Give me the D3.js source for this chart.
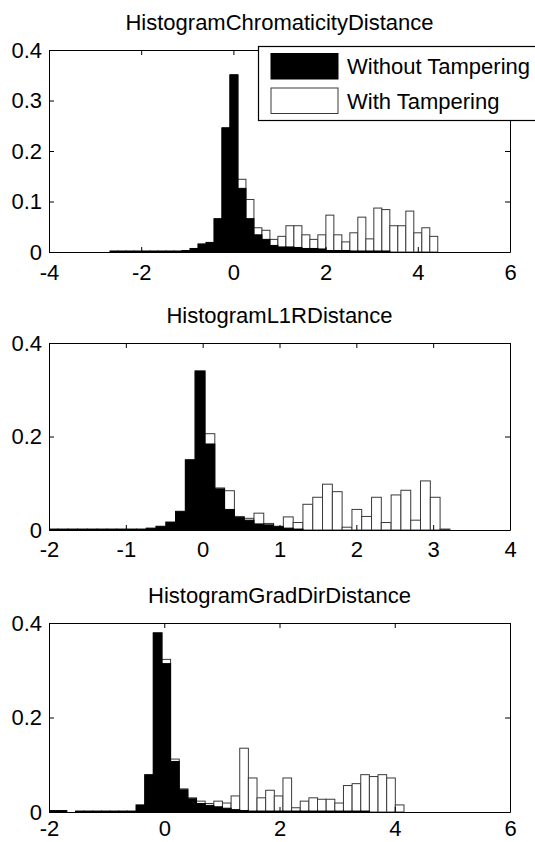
<!DOCTYPE html>
<html>
<head>
<meta charset="utf-8">
<script src="https://d3js.org/d3.v7.min.js"></script>
<style>
  body { margin: 0; background: #fff; }
  svg text { font-family: "Liberation Sans", Arial, sans-serif; fill: #000; }
</style>
</head>
<body>
<div id="container"></div>
<script>
//Bin edges (42 edges -> 41 bins) and bar heights
var chromaEdges = [-2.676, -2.503, -2.329, -2.156, -1.982, -1.809, -1.636, -1.462, -1.289, -1.115,
  -0.942, -0.769, -0.595, -0.422, -0.248, -0.075, 0.098, 0.272, 0.445, 0.619,
  0.792, 0.965, 1.139, 1.312, 1.486, 1.659, 1.832, 2.006, 2.179, 2.353,
  2.526, 2.699, 2.873, 3.046, 3.220, 3.393, 3.566, 3.740, 3.913, 4.087,
  4.260, 4.433];
var chromaWithout = [0.002, 0.002, 0.002, 0.002, 0.002, 0.002, 0.002, 0.002, 0.002, 0.003,
  0.007, 0.016, 0.019, 0.066, 0.246, 0.351, 0.126, 0.066, 0.034, 0.025,
  0.013, 0.010, 0.010, 0.009, 0.007, 0.007, 0.006, 0.003, 0.003, 0.003,
  0.002, 0.002, 0.002, 0.002, 0.002, 0, 0, 0, 0, 0,
  0];
var chromaWith = [0, 0, 0, 0, 0, 0, 0, 0, 0, 0,
  0, 0, 0, 0, 0.245, 0.35, 0.144, 0.104, 0.048, 0.043,
  0.025, 0.031, 0.052, 0.052, 0.034, 0.025, 0.034, 0.073, 0.034, 0.020,
  0.038, 0.069, 0.026, 0.087, 0.084, 0.052, 0.052, 0.081, 0.038, 0.048,
  0.031];

var l1rEdges = [-2.010, -1.883, -1.755, -1.628, -1.500, -1.373, -1.245, -1.118, -0.990, -0.863,
  -0.735, -0.608, -0.480, -0.353, -0.225, -0.098, 0.030, 0.158, 0.285, 0.413,
  0.540, 0.668, 0.795, 0.923, 1.050, 1.178, 1.305, 1.433, 1.560, 1.688,
  1.815, 1.943, 2.070, 2.198, 2.325, 2.453, 2.580, 2.708, 2.835, 2.963,
  3.090, 3.218];
var l1rWithout = [0.002, 0.002, 0.002, 0.002, 0.002, 0.002, 0.002, 0.002, 0.002, 0.002,
  0.004, 0.008, 0.017, 0.040, 0.150, 0.340, 0.184, 0.088, 0.044, 0.027,
  0.021, 0.013, 0.011, 0.007, 0.004, 0.002, 0, 0, 0, 0,
  0, 0, 0, 0, 0, 0, 0, 0, 0, 0,
  0];
var l1rWith = [0, 0, 0, 0, 0, 0, 0, 0, 0, 0,
  0, 0, 0, 0, 0.150, 0.340, 0.206, 0.090, 0.084, 0.029,
  0.025, 0.036, 0.014, 0.008, 0.028, 0.016, 0.055, 0.070, 0.098, 0.082,
  0.006, 0.044, 0.029, 0.070, 0.016, 0.075, 0.085, 0.021, 0.105, 0.070,
  0.002];

var gradEdges = [-1.99, -1.84, -1.69, -1.54, -1.39, -1.24, -1.09, -0.94, -0.79, -0.64,
  -0.49, -0.34, -0.19, -0.04, 0.11, 0.26, 0.41, 0.56, 0.71, 0.86,
  1.01, 1.16, 1.31, 1.46, 1.61, 1.76, 1.91, 2.06, 2.21, 2.36,
  2.51, 2.66, 2.81, 2.96, 3.11, 3.26, 3.41, 3.56, 3.71, 3.86,
  4.01, 4.16];
var gradWithout = [0.003, 0.003, 0, 0.002, 0.002, 0.002, 0.002, 0.002, 0.002, 0.002,
  0.015, 0.079, 0.379, 0.314, 0.107, 0.047, 0.028, 0.018, 0.014, 0.011,
  0.008, 0.005, 0.003, 0.002, 0.002, 0.002, 0.002, 0.002, 0.002, 0.002,
  0.002, 0.002, 0.002, 0.002, 0.002, 0.002, 0.002, 0, 0, 0,
  0];
var gradWith = [0, 0, 0, 0, 0, 0, 0, 0, 0, 0,
  0, 0, 0.379, 0.323, 0.112, 0.049, 0.030, 0.023, 0.018, 0.023,
  0.019, 0.034, 0.135, 0.072, 0.030, 0.046, 0.034, 0.072, 0.009, 0.023,
  0.030, 0.027, 0.027, 0.019, 0.056, 0.060, 0.079, 0.075, 0.079, 0.072,
  0.015];

//Titles, tick values, legend labels
var titles = ["HistogramChromaticityDistance", "HistogramL1RDistance", "HistogramGradDirDistance"];
var xTicks1 = [-4, -2, 0, 2, 4, 6];
var xTicks2 = [-2, -1, 0, 1, 2, 3, 4];
var xTicks3 = [-2, 0, 2, 4, 6];
var yTicks1 = [0, 0.1, 0.2, 0.3, 0.4];
var yTicks23 = [0, 0.2, 0.4];
var legendLabels = ["Without Tampering", "With Tampering"];

var svgWidth = 535, svgHeight = 842;
var left = 49, right = 510;

var panels = [
  { title: titles[0], edges: chromaEdges, without: chromaWithout, withT: chromaWith,
    xTicks: xTicks1, yTicks: yTicks1, top: 50, bottom: 252, pad: 12 },
  { title: titles[1], edges: l1rEdges, without: l1rWithout, withT: l1rWith,
    xTicks: xTicks2, yTicks: yTicks23, top: 343, bottom: 530, pad: 11 },
  { title: titles[2], edges: gradEdges, without: gradWithout, withT: gradWith,
    xTicks: xTicks3, yTicks: yTicks23, top: 623, bottom: 812, pad: 8 }
];

var svg = d3.select("#container")
  .append("svg")
  .attr("width", svgWidth)
  .attr("height", svgHeight);

svg.append("rect")
  .attr("width", svgWidth)
  .attr("height", svgHeight)
  .attr("fill", "#fff");

panels.forEach(function (p, i) {
  drawPanel(p, i);
});

//plain hyphen minus like MATLAB, not the unicode minus d3.format gives
function tickText(d) {
  return String(d);
}

function drawPanel(p, i) {
  var x = d3.scaleLinear()
    .domain([p.xTicks[0], p.xTicks[p.xTicks.length - 1]])
    .range([left, right]);
  var y = d3.scaleLinear()
    .domain([0, 0.4])
    .range([p.bottom, p.top]);

  var g = svg.append("g");

  g.append("clipPath")
    .attr("id", "clip" + i)
    .append("rect")
    .attr("x", left)
    .attr("y", p.top)
    .attr("width", right - left)
    .attr("height", p.bottom - p.top);

  var bars = g.append("g").attr("clip-path", "url(#clip" + i + ")");

  //white (with tampering) first, black drawn over it
  drawBars(bars, p.edges, p.withT, x, y, "#fff", "#3a3a3a");
  drawBars(bars, p.edges, p.without, x, y, "#000", "#000");

  //axes, ticks point inward on all four sides
  g.append("g")
    .attr("transform", "translate(0," + p.bottom + ")")
    .call(d3.axisBottom(x).tickValues(p.xTicks).tickFormat(tickText)
      .tickSizeInner(-5).tickSizeOuter(0).tickPadding(p.pad))
    .call(styleAxis);
  g.append("g")
    .attr("transform", "translate(0," + p.top + ")")
    .call(d3.axisTop(x).tickValues(p.xTicks).tickFormat("")
      .tickSizeInner(-5).tickSizeOuter(0))
    .call(styleAxis);
  g.append("g")
    .attr("transform", "translate(" + left + ",0)")
    .call(d3.axisLeft(y).tickValues(p.yTicks).tickFormat(tickText)
      .tickSizeInner(-5).tickSizeOuter(0).tickPadding(7))
    .call(styleAxis);
  g.append("g")
    .attr("transform", "translate(" + right + ",0)")
    .call(d3.axisRight(y).tickValues(p.yTicks).tickFormat("")
      .tickSizeInner(-5).tickSizeOuter(0))
    .call(styleAxis);

  g.append("text")
    .attr("x", (left + right) / 2)
    .attr("y", p.top - 20)
    .attr("text-anchor", "middle")
    .style("font-size", "22px")
    .text(p.title);
}

function drawBars(sel, edges, values, x, y, fill, stroke) {
  var data = values.map(function (v, k) {
    return { x0: edges[k], x1: edges[k + 1], v: v };
  }).filter(function (d) { return d.v > 0; });

  sel.append("g")
    .selectAll("rect")
    .data(data)
    .enter()
    .append("rect")
    .attr("x", function (d) { return x(d.x0); })
    .attr("y", function (d) { return y(d.v); })
    .attr("width", function (d) { return x(d.x1) - x(d.x0); })
    .attr("height", function (d) { return y(0) - y(d.v); })
    .attr("fill", fill)
    .attr("stroke", stroke)
    .attr("stroke-width", 1);
}

function styleAxis(a) {
  a.select(".domain").attr("stroke", "#000").attr("stroke-width", 1);
  a.selectAll(".tick line").attr("stroke", "#000");
  a.selectAll(".tick text")
    .attr("fill", "#000")
    .style("font-size", "22px")
    .style("font-family", "'Liberation Sans', Arial, sans-serif");
}

//Legend (top panel), box runs off the right edge like the original
var legend = svg.append("g");
legend.append("rect")
  .attr("x", 258.5)
  .attr("y", 46.5)
  .attr("width", 300)
  .attr("height", 74)
  .attr("fill", "#fff")
  .attr("stroke", "#000")
  .attr("stroke-width", 1.2);

var legendFills = ["#000", "#fff"];
var legendStrokes = ["#000", "#3a3a3a"];
legendLabels.forEach(function (label, k) {
  legend.append("rect")
    .attr("x", 271)
    .attr("y", 53.5 + k * 34.5)
    .attr("width", 67)
    .attr("height", 25.5)
    .attr("fill", legendFills[k])
    .attr("stroke", legendStrokes[k]);
  legend.append("text")
    .attr("x", 347)
    .attr("y", 74 + k * 35)
    .style("font-size", "22px")
    .text(label);
});
</script>
</body>
</html>
